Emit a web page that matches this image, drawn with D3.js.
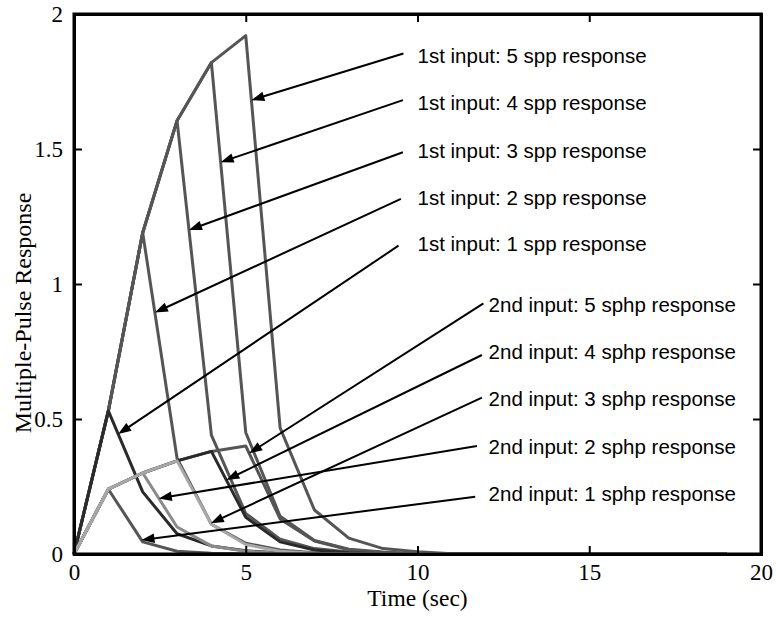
<!DOCTYPE html>
<html>
<head>
<meta charset="utf-8">
<script src="https://cdn.jsdelivr.net/npm/d3@7"></script>
<style>
  body { margin: 0; background: #fff; }
</style>
</head>
<body>
<script>
// sample times (sec)
const time = d3.range(0, 20);

// 1st input, k single pulses (spp)
const spp1 = [0, 0.53, 0.23, 0.075, 0.03, 0.012, 0.004];
const spp2 = [0, 0.53, 1.19, 0.355, 0.11, 0.04, 0.015, 0.005];
const spp3 = [0, 0.53, 1.19, 1.605, 0.44, 0.15, 0.055, 0.02, 0.007];
const spp4 = [0, 0.53, 1.19, 1.605, 1.82, 0.45, 0.14, 0.05, 0.018, 0.007];
const spp5 = [0, 0.53, 1.19, 1.605, 1.82, 1.92, 0.467, 0.163, 0.059, 0.02, 0.008];

// 2nd input, k pulses (sphp)
const sphp1 = [0, 0.24, 0.045, 0.01, 0.003];
const sphp2 = [0, 0.24, 0.30, 0.10, 0.03, 0.01, 0.003];
const sphp3 = [0, 0.24, 0.30, 0.345, 0.11, 0.035, 0.01, 0.003];
const sphp4 = [0, 0.24, 0.30, 0.345, 0.38, 0.136, 0.045, 0.015, 0.005];
const sphp5 = [0, 0.24, 0.30, 0.345, 0.38, 0.40, 0.13, 0.048, 0.016, 0.005];

const labels = [
  "1st input: 5 spp response", "1st input: 4 spp response", "1st input: 3 spp response",
  "1st input: 2 spp response", "1st input: 1 spp response",
  "2nd input: 5 sphp response", "2nd input: 4 sphp response", "2nd input: 3 sphp response",
  "2nd input: 2 sphp response", "2nd input: 1 sphp response"
];
// label anchor (time, value), arrow tail (time, value), arrow tip value on curve
const labelT = [10, 10, 10, 10, 10, 12.07, 12.07, 12.07, 12.07, 12.07];
const labelV = [1.844, 1.671, 1.493, 1.32, 1.147, 0.922, 0.749, 0.574, 0.397, 0.222];
const tailT = [9.59, 9.575, 9.575, 9.517, 9.447, 11.92, 11.876, 11.876, 11.73, 11.68];
const tailV = [1.854, 1.681, 1.488, 1.315, 1.142, 0.9285, 0.737, 0.579, 0.4, 0.212];
const tipV = [1.681, 1.451, 1.2, 0.894, 0.444, 0.373, 0.274, 0.114, 0.206, 0.052];

const xTicks = [0, 5, 10, 15, 20];
const yTicks = [0, 0.5, 1, 1.5, 2];

// pad each series with zeros out to t = 19
const pad = a => time.map((t, i) => i < a.length ? a[i] : 0.001 * Math.max(0, 1 - (i - a.length) / 4));
const curves = [spp5, spp4, spp3, spp2, spp1, sphp5, sphp4, sphp3, sphp2, sphp1].map(pad);
const colors = ["#555", "#555", "#555", "#555", "#2a2a2a", "#555", "#2a2a2a", "#a8a8a8", "#8a8a8a", "#555"];

const W = 776, H = 624;
const margin = { left: 74, right: 15, top: 14, bottom: 70 };

const x = d3.scaleLinear().domain([0, 20]).range([margin.left, W - margin.right]);
const y = d3.scaleLinear().domain([0, 2]).range([H - margin.bottom, margin.top]);

const svg = d3.select("body").append("svg")
  .attr("width", W).attr("height", H);

// ----- curves -----
const line = d3.line().x((d, i) => x(time[i])).y(d => y(d));

// back-to-front order
const order = [0, 1, 2, 3, 5, 6, 9, 4, 8, 7];
svg.append("g")
  .selectAll("path")
  .data(order)
  .join("path")
    .attr("d", i => line(curves[i]))
    .attr("fill", "none")
    .attr("stroke", i => colors[i])
    .attr("stroke-width", 3)
    .attr("stroke-linejoin", "round");

// ----- arrows -----
// time where a curve falls to value v after its peak
function tipTime(c, v) {
  const pk = d3.maxIndex(c);
  for (let i = pk; i < c.length - 1; i++) {
    if (c[i] >= v && c[i + 1] <= v) return time[i] + (c[i] - v) / (c[i] - c[i + 1]);
  }
  return time[pk];
}

const arrows = labels.map((s, i) => {
  const tt = tipTime(curves[i], tipV[i]);
  return { x1: x(tailT[i]), y1: y(tailV[i]), x2: x(tt), y2: y(tipV[i]) };
});

const ag = svg.append("g");
ag.selectAll("line")
  .data(arrows)
  .join("line")
    .attr("x1", d => d.x1).attr("y1", d => d.y1)
    .attr("x2", d => d.x2 + (d.x1 - d.x2) * 8 / Math.hypot(d.x1 - d.x2, d.y1 - d.y2))
    .attr("y2", d => d.y2 + (d.y1 - d.y2) * 8 / Math.hypot(d.x1 - d.x2, d.y1 - d.y2))
    .attr("stroke", "#000")
    .attr("stroke-width", 2);

ag.selectAll("path")
  .data(arrows)
  .join("path")
    .attr("d", d => {
      const a = Math.atan2(d.y1 - d.y2, d.x1 - d.x2);
      const L = 13, hw = 4.8;
      const bx = d.x2 + L * Math.cos(a), by = d.y2 + L * Math.sin(a);
      const px = -Math.sin(a) * hw, py = Math.cos(a) * hw;
      return `M${d.x2},${d.y2}L${bx + px},${by + py}L${bx - px},${by - py}Z`;
    })
    .attr("fill", "#000");

svg.append("g")
  .selectAll("text")
  .data(labels)
  .join("text")
    .attr("x", (d, i) => x(labelT[i]))
    .attr("y", (d, i) => y(labelV[i]))
    .attr("dy", "0.35em")
    .style("font", "20.5px 'Liberation Sans', Arial, sans-serif")
    .text(d => d);

// ----- axes box -----
const gx = svg.append("g")
  .attr("transform", `translate(0,${y(0)})`)
  .call(d3.axisBottom(x).tickValues(xTicks).tickSize(-8).tickPadding(10).tickFormat(d3.format("d")));
const gxTop = svg.append("g")
  .attr("transform", `translate(0,${y(2)})`)
  .call(d3.axisTop(x).tickValues(xTicks).tickSize(-8).tickFormat(""));
const gy = svg.append("g")
  .attr("transform", `translate(${x(0)},0)`)
  .call(d3.axisLeft(y).tickValues(yTicks).tickSize(-8).tickPadding(11).tickFormat(d => d));
const gyR = svg.append("g")
  .attr("transform", `translate(${x(20)},0)`)
  .call(d3.axisRight(y).tickValues(yTicks).tickSize(-8).tickFormat(""));

[gx, gxTop, gy, gyR].forEach(g => {
  g.select(".domain").attr("stroke", "#000").attr("stroke-width", 3);
  g.selectAll(".tick line").attr("stroke", "#000").attr("stroke-width", 2);
  g.selectAll(".tick text")
    .attr("fill", "#000")
    .style("font-family", "'Liberation Serif', 'Times New Roman', serif")
    .style("font-size", "23px");
});

svg.append("rect")
  .attr("x", x(0)).attr("y", y(2))
  .attr("width", x(20) - x(0)).attr("height", y(0) - y(2))
  .attr("fill", "none").attr("stroke", "#000").attr("stroke-width", 3);

// ----- axis titles -----
svg.append("text")
  .attr("x", (x(0) + x(20)) / 2)
  .attr("y", 606)
  .attr("text-anchor", "middle")
  .style("font", "23.5px 'Liberation Serif', 'Times New Roman', serif")
  .text("Time (sec)");

svg.append("text")
  .attr("transform", `translate(31,313) rotate(-90)`)
  .attr("text-anchor", "middle")
  .style("font", "24px 'Liberation Serif', 'Times New Roman', serif")
  .text("Multiple-Pulse Response");
</script>
</body>
</html>
